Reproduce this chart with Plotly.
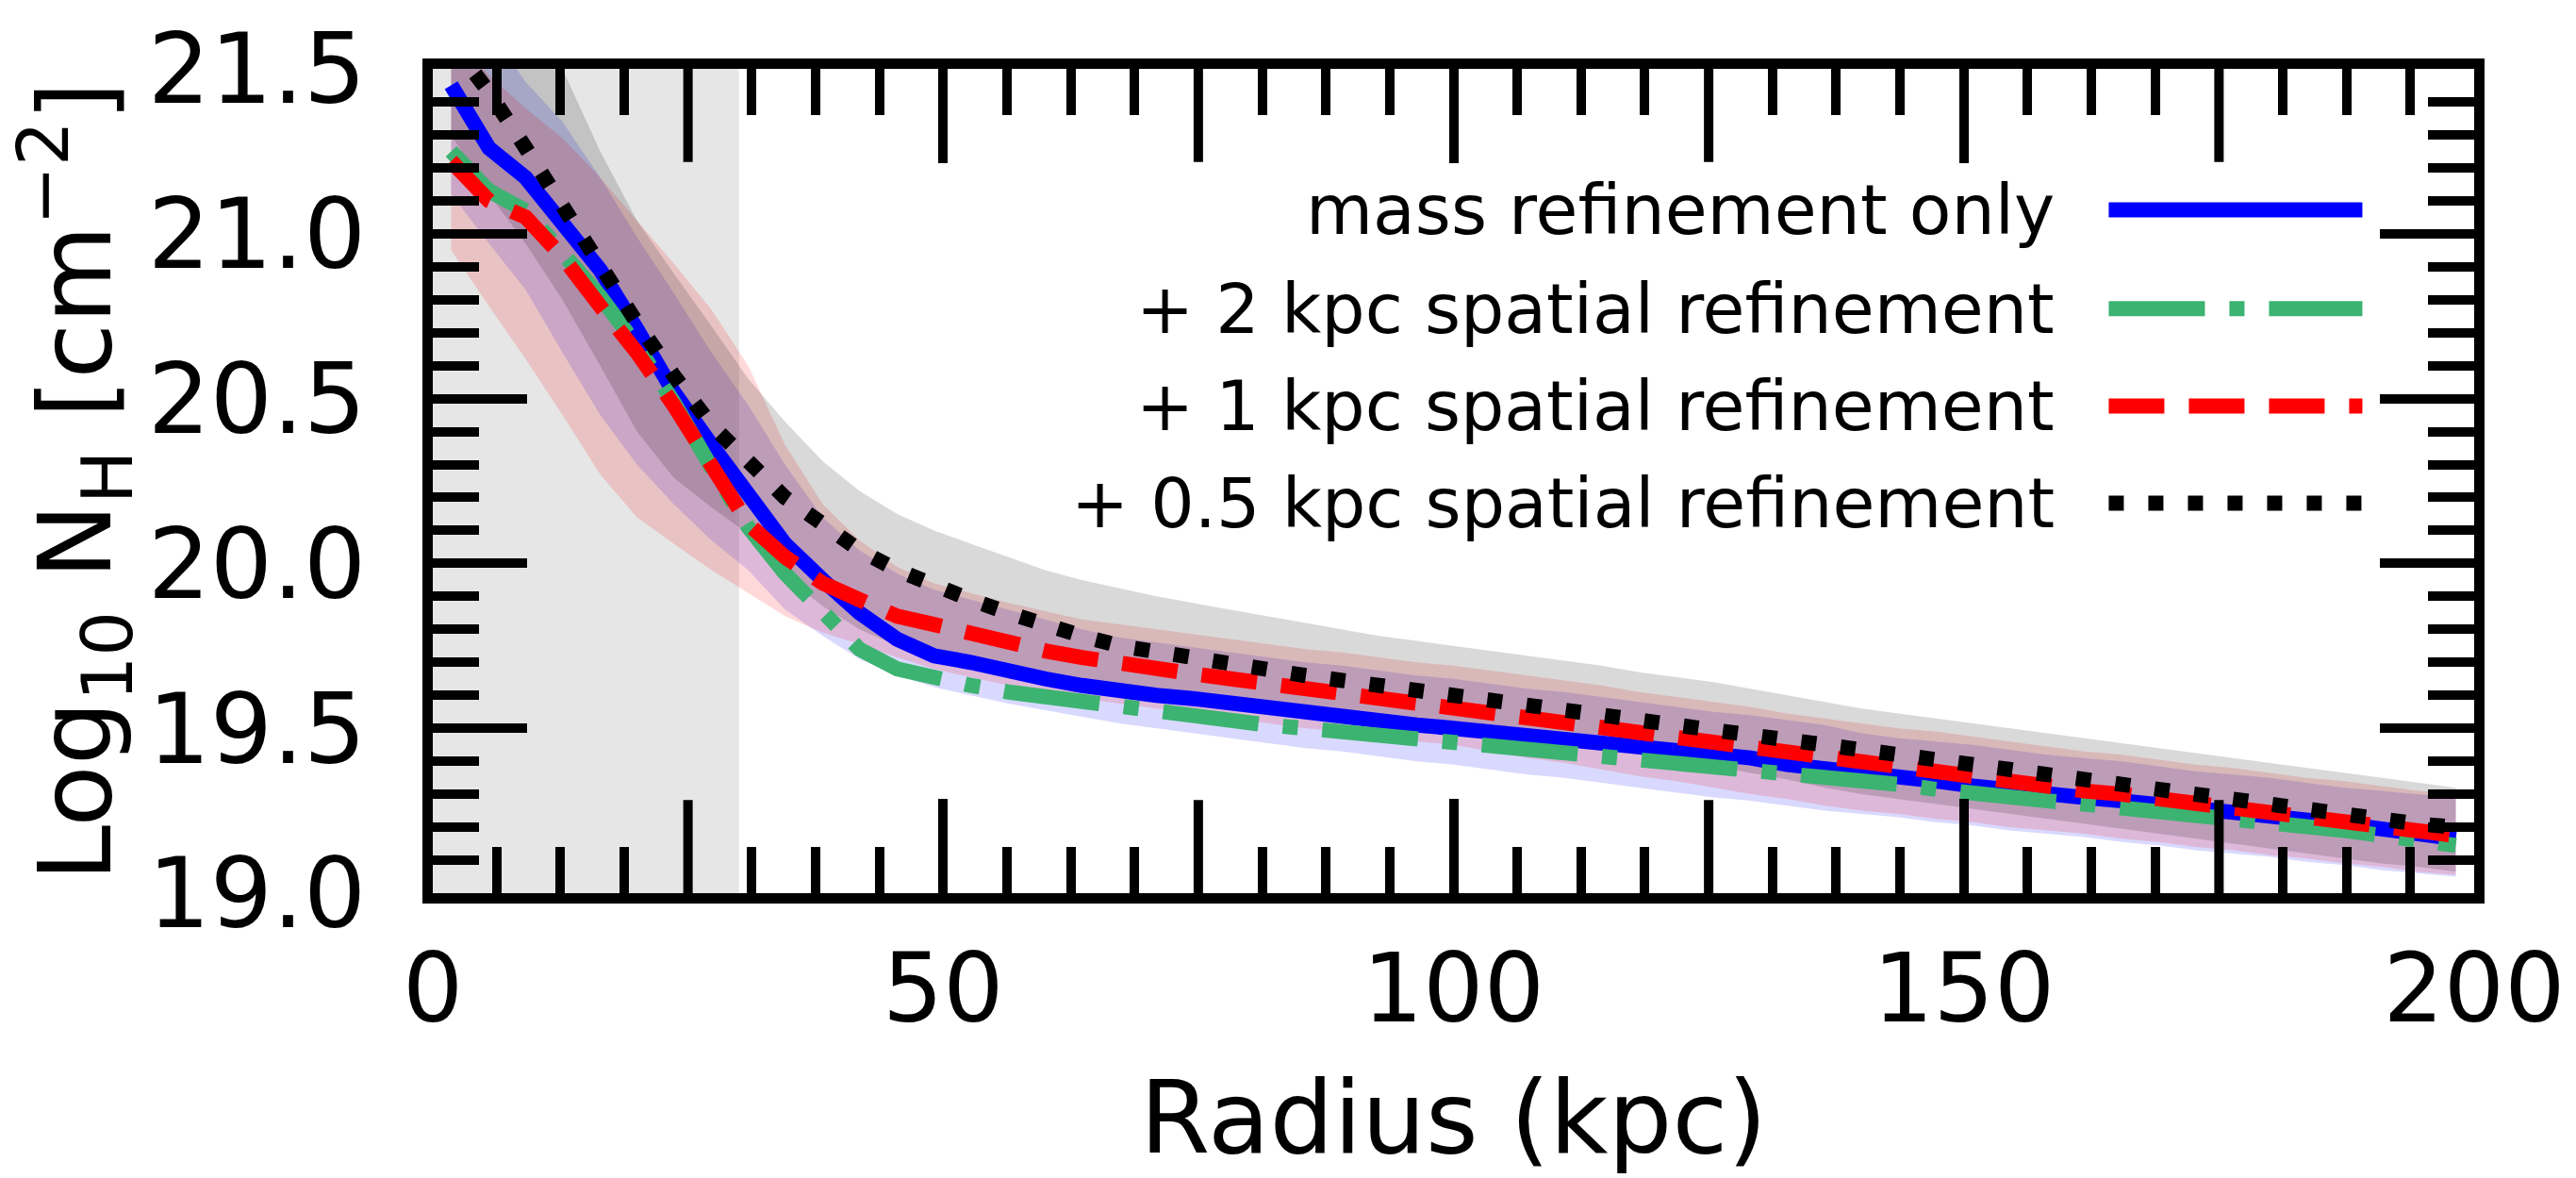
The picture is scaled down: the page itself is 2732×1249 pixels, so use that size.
import plotly.graph_objects as go

# ---------------------------------------------------------------------------
# Data: median H column density profiles and their scatter bands
# ---------------------------------------------------------------------------
radius = [
    1.8, 5.5, 9.1, 12.7, 16.4, 20.0, 23.6, 27.3, 30.9, 34.5,
    38.2, 41.8, 45.5, 49.1, 52.7, 56.4, 60.0, 63.6, 67.3, 70.9,
    74.5, 78.2, 81.8, 85.5, 89.1, 92.7, 96.4, 100.0, 103.6, 107.3,
    110.9, 114.5, 118.2, 121.8, 125.5, 129.1, 132.7, 136.4, 140.0, 143.6,
    147.3, 150.9, 154.5, 158.2, 161.8, 165.5, 169.1, 172.7, 176.4, 180.0,
    183.6, 187.3, 190.9, 194.5, 198.2,
]

mass_only = [
    21.45, 21.26, 21.17, 21.03, 20.89, 20.71, 20.52, 20.36, 20.21, 20.06,
    19.95, 19.85, 19.77, 19.72, 19.70, 19.67, 19.65, 19.63, 19.61, 19.60,
    19.59, 19.575, 19.56, 19.55, 19.535, 19.52, 19.51, 19.50, 19.49, 19.48,
    19.47, 19.46, 19.44, 19.43, 19.42, 19.41, 19.39, 19.38, 19.37, 19.355,
    19.34, 19.325, 19.31, 19.30, 19.29, 19.28, 19.27, 19.26, 19.25, 19.24,
    19.225, 19.21, 19.195, 19.18, 19.165,
]

spatial_2kpc = [
    21.25, 21.13, 21.07, 20.94, 20.81, 20.66, 20.49, 20.29, 20.11, 19.97,
    19.85, 19.74, 19.68, 19.65, 19.63, 19.61, 19.595, 19.58, 19.56, 19.55,
    19.535, 19.52, 19.51, 19.50, 19.49, 19.48, 19.47, 19.46, 19.45, 19.44,
    19.43, 19.42, 19.41, 19.40, 19.39, 19.38, 19.37, 19.355, 19.345, 19.33,
    19.315, 19.30, 19.29, 19.28, 19.27, 19.26, 19.25, 19.24, 19.23, 19.22,
    19.205, 19.19, 19.175, 19.16, 19.145,
]

spatial_1kpc = [
    21.22, 21.10, 21.05, 20.93, 20.78, 20.64, 20.48, 20.29, 20.12, 20.02,
    19.94, 19.89, 19.84, 19.815, 19.785, 19.76, 19.735, 19.715, 19.695, 19.68,
    19.665, 19.65, 19.635, 19.62, 19.605, 19.59, 19.575, 19.56, 19.55, 19.535,
    19.52, 19.505, 19.49, 19.475, 19.46, 19.445, 19.43, 19.415, 19.40, 19.385,
    19.37, 19.355, 19.34, 19.325, 19.31, 19.30, 19.285, 19.27, 19.26, 19.245,
    19.23, 19.215, 19.20, 19.19, 19.175,
]

spatial_05kpc = [
    21.58, 21.43, 21.26, 21.08, 20.90, 20.73, 20.57, 20.42, 20.31, 20.20,
    20.12, 20.04, 19.98, 19.93, 19.89, 19.85, 19.81, 19.78, 19.75, 19.73,
    19.71, 19.69, 19.675, 19.66, 19.645, 19.63, 19.615, 19.60, 19.585, 19.57,
    19.555, 19.54, 19.525, 19.51, 19.495, 19.48, 19.465, 19.45, 19.435, 19.42,
    19.40, 19.385, 19.37, 19.355, 19.34, 19.325, 19.31, 19.295, 19.285, 19.27,
    19.255, 19.24, 19.225, 19.21, 19.20,
]

# scatter bands (upper / lower envelope)
mass_only_hi = [
    21.78, 21.62, 21.46, 21.34, 21.17, 20.99, 20.82, 20.64, 20.48, 20.30,
    20.14, 20.04, 19.97, 19.92, 19.89, 19.86, 19.83, 19.80, 19.775, 19.76,
    19.745, 19.73, 19.715, 19.70, 19.69, 19.675, 19.66, 19.65, 19.635, 19.62,
    19.61, 19.595, 19.58, 19.565, 19.55, 19.54, 19.525, 19.51, 19.485, 19.47,
    19.46, 19.45, 19.435, 19.42, 19.41, 19.40, 19.385, 19.37, 19.36, 19.35,
    19.335, 19.32, 19.31, 19.30, 19.29,
]
mass_only_lo = [
    21.12, 20.97, 20.83, 20.64, 20.45, 20.30, 20.18, 20.07, 19.98, 19.86,
    19.78, 19.71, 19.66, 19.625, 19.60, 19.575, 19.555, 19.535, 19.515, 19.50,
    19.485, 19.47, 19.455, 19.44, 19.43, 19.415, 19.40, 19.39, 19.375, 19.36,
    19.35, 19.335, 19.32, 19.305, 19.29, 19.28, 19.265, 19.25, 19.24, 19.23,
    19.215, 19.205, 19.19, 19.18, 19.17, 19.155, 19.145, 19.13, 19.12, 19.11,
    19.095, 19.085, 19.07, 19.06, 19.05,
]
spatial_1kpc_hi = [
    21.62, 21.48, 21.38, 21.29, 21.17, 21.04, 20.91, 20.77, 20.60, 20.36,
    20.18, 20.07, 19.99, 19.94, 19.91, 19.88, 19.855, 19.83, 19.815, 19.80,
    19.785, 19.77, 19.755, 19.74, 19.73, 19.715, 19.70, 19.69, 19.675, 19.66,
    19.645, 19.63, 19.61, 19.595, 19.58, 19.565, 19.545, 19.53, 19.515, 19.50,
    19.49, 19.475, 19.46, 19.445, 19.43, 19.42, 19.405, 19.39, 19.38, 19.365,
    19.35, 19.34, 19.325, 19.31, 19.30,
]
spatial_1kpc_lo = [
    20.95, 20.78, 20.62, 20.45, 20.27, 20.14, 20.06, 19.98, 19.91, 19.84,
    19.79, 19.755, 19.715, 19.68, 19.655, 19.63, 19.61, 19.59, 19.575, 19.56,
    19.545, 19.53, 19.515, 19.50, 19.49, 19.475, 19.46, 19.45, 19.43, 19.41,
    19.395, 19.375, 19.355, 19.34, 19.32, 19.30, 19.285, 19.265, 19.25, 19.24,
    19.225, 19.215, 19.20, 19.19, 19.18, 19.165, 19.155, 19.14, 19.13, 19.115,
    19.105, 19.09, 19.08, 19.065, 19.055,
]
spatial_05kpc_hi = [
    21.90, 21.75, 21.62, 21.50, 21.25, 21.04, 20.88, 20.72, 20.56, 20.43,
    20.31, 20.22, 20.15, 20.10, 20.06, 20.02, 19.98, 19.95, 19.925, 19.90,
    19.88, 19.86, 19.84, 19.82, 19.80, 19.78, 19.765, 19.75, 19.735, 19.72,
    19.705, 19.69, 19.67, 19.655, 19.64, 19.62, 19.60, 19.58, 19.56, 19.545,
    19.53, 19.515, 19.50, 19.485, 19.47, 19.455, 19.44, 19.425, 19.41, 19.395,
    19.38, 19.365, 19.35, 19.335, 19.32,
]
spatial_05kpc_lo = [
    21.30, 21.12, 20.97, 20.80, 20.60, 20.40, 20.26, 20.17, 20.09, 19.96,
    19.87, 19.80, 19.75, 19.72, 19.70, 19.68, 19.665, 19.65, 19.635, 19.62,
    19.60, 19.585, 19.57, 19.555, 19.54, 19.525, 19.51, 19.495, 19.48, 19.465,
    19.45, 19.435, 19.42, 19.40, 19.385, 19.365, 19.345, 19.32, 19.30, 19.285,
    19.27, 19.255, 19.24, 19.225, 19.21, 19.195, 19.18, 19.165, 19.15, 19.135,
    19.12, 19.105, 19.09, 19.08, 19.065,
]

# shaded inner region (kpc)
inner_region = [0, 30]

series_labels = [
    "mass refinement only",
    "+ 2 kpc spatial refinement",
    "+ 1 kpc spatial refinement",
    "+ 0.5 kpc spatial refinement",
]

x_labelled = [0, 50, 100, 150, 200]
x_unlabelled_major = [25, 75, 125, 175]
y_major = [19.0, 19.5, 20.0, 20.5, 21.0, 21.5]
y_major_text = ["19.0", "19.5", "20.0", "20.5", "21.0", "21.5"]

# ---------------------------------------------------------------------------
# Styling / geometry
# ---------------------------------------------------------------------------
W, H = 2732, 1249
PLOT_L, PLOT_R, PLOT_T, PLOT_B = 459, 2632, 61, 947
FONT = "DejaVu Sans"
LW = 16
MAJOR_LEN, MINOR_LEN, TICK_W = 100, 49, 10

x_minor = [6.25 * k for k in range(33) if k % 4]
y_minor = [round(19.0 + 0.1 * k, 1) for k in range(26) if k % 5]

styles = [
    dict(color="#0000ff", dash="solid"),
    dict(color="#3cb371", dash="102px,26px,16px,26px"),
    dict(color="#ff0000", dash="59px,26px"),
    dict(color="#000000", dash="16px,26px"),
]


def px_x(px):
    return (px - PLOT_L) / (PLOT_R - PLOT_L)


def px_y(py):
    return (PLOT_B - py) / (PLOT_B - PLOT_T)


fig = go.Figure()

# scatter bands
bands = [
    (mass_only_lo, mass_only_hi, "rgba(0,0,255,0.15)"),
    (spatial_1kpc_lo, spatial_1kpc_hi, "rgba(255,0,0,0.15)"),
    (spatial_05kpc_lo, spatial_05kpc_hi, "rgba(0,0,0,0.15)"),
]
for lo, hi, col in bands:
    fig.add_trace(go.Scatter(
        x=radius + radius[::-1], y=hi + lo[::-1],
        mode="lines", fill="toself", fillcolor=col,
        line=dict(width=0), hoverinfo="skip", showlegend=False,
    ))

# median profiles
profiles = [mass_only, spatial_2kpc, spatial_1kpc, spatial_05kpc]
for yv, st, name in zip(profiles, styles, series_labels):
    fig.add_trace(go.Scatter(
        x=radius, y=yv, mode="lines", name=name,
        line=dict(color=st["color"], width=LW, dash=st["dash"]),
        showlegend=False,
    ))

shapes = [
    dict(type="rect", xref="x", yref="paper", x0=inner_region[0], x1=inner_region[1],
         y0=0, y1=1, fillcolor="rgba(128,128,128,0.2)", line=dict(width=0), layer="below"),
]

# long unlabelled x ticks (bottom and mirrored top), pointing inwards
tick_frac = MAJOR_LEN / (PLOT_B - PLOT_T)
for xv in x_unlabelled_major:
    for y0, y1 in ((0, tick_frac), (1, 1 - tick_frac)):
        shapes.append(dict(type="line", xref="x", yref="paper", x0=xv, x1=xv,
                           y0=y0, y1=y1, line=dict(color="black", width=TICK_W)))

annotations = []

# legend: text right-aligned with line sample on its right
legend_y = [212.6, 318.8, 423.4, 527.9]
for ly, st, name in zip(legend_y, styles, series_labels):
    shapes.append(dict(
        type="line", xref="paper", yref="paper",
        x0=px_x(2243), x1=px_x(2513), y0=px_y(ly), y1=px_y(ly),
        line=dict(color=st["color"], width=LW, dash=st["dash"]),
    ))
    annotations.append(dict(
        text=name, xref="paper", yref="paper", x=px_x(2187), y=px_y(ly),
        xanchor="right", yanchor="middle", showarrow=False,
        font=dict(family=FONT, size=73, color="black"),
    ))

# axis titles
annotations.append(dict(
    text="Radius (kpc)", xref="paper", yref="paper", x=0.5, y=px_y(1188),
    xanchor="center", yanchor="middle", showarrow=False,
    font=dict(family=FONT, size=107, color="black"),
))
annotations.append(dict(
    text="Log<sub>10</sub> N<sub>H</sub> [cm<sup>\u22122</sup>]",
    xref="paper", yref="paper", x=px_x(78), y=0.5, textangle=-90,
    xanchor="center", yanchor="middle", showarrow=False,
    font=dict(family=FONT, size=107, color="black"),
))

axis_common = dict(
    ticks="inside", tickwidth=TICK_W, tickcolor="black", ticklen=MAJOR_LEN,
    showline=True, linewidth=11, linecolor="black", mirror="ticks",
    showgrid=False, zeroline=False,
)

fig.update_layout(
    width=W, height=H,
    margin=dict(l=PLOT_L, r=W - PLOT_R, t=PLOT_T, b=H - PLOT_B, pad=0),
    paper_bgcolor="white", plot_bgcolor="white",
    showlegend=False,
    xaxis=dict(
        range=[0, 200], tickmode="array", tickvals=x_labelled,
        ticktext=[str(v) for v in x_labelled],
        ticklabelstandoff=4,
        tickfont=dict(family=FONT, size=101, color="black"),
        minor=dict(tickmode="array", tickvals=x_minor, ticks="inside",
                   ticklen=MINOR_LEN, tickwidth=TICK_W, tickcolor="black", showgrid=False),
        **axis_common,
    ),
    yaxis=dict(
        range=[19.0, 21.5], tickmode="array", tickvals=y_major, ticktext=y_major_text,
        ticklabelstandoff=39,
        tickfont=dict(family=FONT, size=104, color="black"),
        minor=dict(tickmode="array", tickvals=y_minor, ticks="inside",
                   ticklen=MINOR_LEN, tickwidth=TICK_W, tickcolor="black", showgrid=False),
        **axis_common,
    ),
    shapes=shapes,
    annotations=annotations,
)

fig.write_html("out.html")
